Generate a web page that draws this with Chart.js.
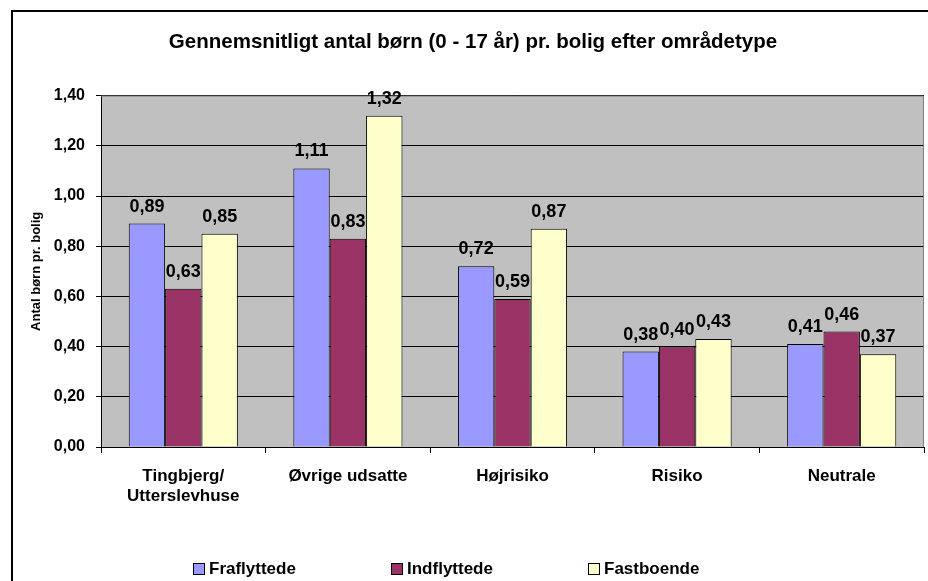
<!DOCTYPE html>
<html>
<head>
<meta charset="utf-8">
<script src="https://cdn.jsdelivr.net/npm/chart.js@4"></script>
<style>
  html, body { margin: 0; padding: 0; background: #fff; }
  #chart { display: block; }
</style>
</head>
<body>
<canvas id="chart" width="928" height="581"></canvas>
<script>
// data
const areaTypes = [['Tingbjerg/', 'Utterslevhuse'], 'Øvrige udsatte', 'Højrisiko', 'Risiko', 'Neutrale'];
const fraflyttede = [0.89, 1.11, 0.72, 0.38, 0.41];
const indflyttede = [0.63, 0.83, 0.59, 0.40, 0.46];
const fastboende = [0.85, 1.32, 0.87, 0.43, 0.37];
const yTickLabels = ['0,00', '0,20', '0,40', '0,60', '0,80', '1,00', '1,20', '1,40'];

const FONT = "'Liberation Sans', Arial, sans-serif";

const fmt = v => v.toFixed(2).replace('.', ',');

// grey plot area, outer frame, value labels and the legend row
const excelLook = {
    id: 'excelLook',
    beforeDraw(chart) {
        const ctx = chart.ctx;
        const a = chart.chartArea;
        ctx.save();
        ctx.fillStyle = '#fff';
        ctx.fillRect(0, 0, chart.width, chart.height);
        ctx.strokeStyle = '#000';
        ctx.lineWidth = 2;
        ctx.strokeRect(12, 11, chart.width + 20, chart.height + 20);
        ctx.fillStyle = '#c0c0c0';
        ctx.fillRect(a.left, a.top, a.right - a.left, a.bottom - a.top);
        ctx.restore();
    },
    beforeDatasetsDraw(chart) {
        const ctx = chart.ctx;
        const a = chart.chartArea;
        ctx.save();
        ctx.strokeStyle = '#808080';
        ctx.lineWidth = 1;
        ctx.beginPath();
        ctx.moveTo(a.left, a.top + 0.5);
        ctx.lineTo(a.right - 0.5, a.top + 0.5);
        ctx.lineTo(a.right - 0.5, a.bottom);
        ctx.stroke();
        ctx.restore();
    },
    afterDatasetsDraw(chart) {
        const ctx = chart.ctx;
        ctx.save();
        ctx.fillStyle = '#000';
        ctx.font = 'bold 18px ' + FONT;
        ctx.textAlign = 'center';
        ctx.textBaseline = 'alphabetic';
        chart.data.datasets.forEach((ds, i) => {
            chart.getDatasetMeta(i).data.forEach((bar, j) => {
                ctx.fillText(fmt(ds.data[j]), bar.x, bar.y - 12);
            });
        });

        // legend
        const slots = [193, 391, 588];
        const cy = 569;
        ctx.font = 'bold 17px ' + FONT;
        ctx.textAlign = 'left';
        ctx.textBaseline = 'middle';
        chart.data.datasets.forEach((ds, i) => {
            const x = slots[i];
            ctx.fillStyle = ds.backgroundColor;
            ctx.fillRect(x + 0.5, cy - 5.5, 11, 11);
            ctx.strokeStyle = '#000';
            ctx.lineWidth = 1;
            ctx.strokeRect(x + 0.5, cy - 5.5, 11, 11);
            ctx.fillStyle = '#000';
            ctx.fillText(ds.label, x + 16, cy);
        });
        ctx.restore();
    }
};

new Chart(document.getElementById('chart'), {
    type: 'bar',
    data: {
        labels: areaTypes,
        datasets: [
            { label: 'Fraflyttede', data: fraflyttede, backgroundColor: '#9999ff' },
            { label: 'Indflyttede', data: indflyttede, backgroundColor: '#993366' },
            { label: 'Fastboende', data: fastboende, backgroundColor: '#ffffcc' }
        ]
    },
    options: {
        responsive: false,
        animation: false,
        layout: { padding: { left: 22, right: 4, top: 0, bottom: 74 } },
        datasets: {
            bar: {
                borderColor: '#000',
                borderWidth: 1,
                categoryPercentage: 0.663,
                barPercentage: 1
            }
        },
        plugins: {
            legend: { display: false },
            tooltip: { enabled: false },
            title: {
                display: true,
                text: 'Gennemsnitligt antal børn (0 - 17 år) pr. bolig efter områdetype',
                color: '#000',
                font: { family: FONT, size: 20.5, weight: 'bold' },
                padding: { top: 30, bottom: 41 }
            }
        },
        scales: {
            x: {
                afterFit(scale) { scale.height = 60; },
                grid: {
                    offset: true,
                    drawOnChartArea: false,
                    drawTicks: true,
                    tickLength: 6,
                    color: '#000'
                },
                border: { color: '#000', width: 1 },
                ticks: {
                    color: '#000',
                    padding: 13,
                    font: { family: FONT, size: 17, weight: 'bold' }
                }
            },
            y: {
                min: 0,
                max: 1.4,
                afterFit(scale) { scale.width = 79; },
                grid: {
                    color: '#000',
                    drawTicks: true,
                    tickLength: 5
                },
                border: { color: '#000', width: 1 },
                ticks: {
                    stepSize: 0.2,
                    color: '#000',
                    padding: 11,
                    font: { family: FONT, size: 16, weight: 'bold' },
                    callback: (v, i) => yTickLabels[i]
                },
                title: {
                    display: true,
                    text: 'Antal børn pr. bolig',
                    color: '#000',
                    font: { family: FONT, size: 13, weight: 'bold' },
                    padding: { top: 7, bottom: 0 }
                }
            }
        }
    },
    plugins: [excelLook]
});
</script>
</body>
</html>
